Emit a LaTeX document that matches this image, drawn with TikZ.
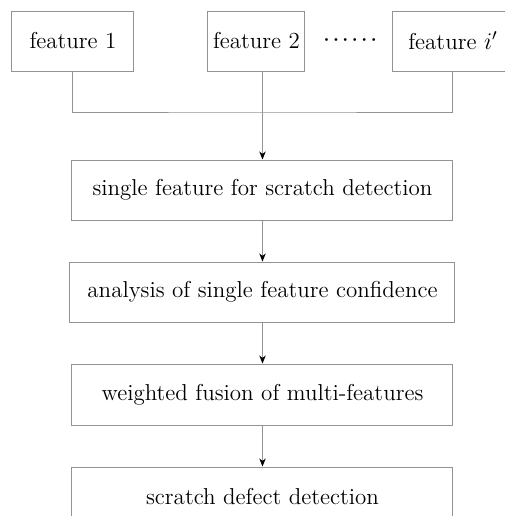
\documentclass[tikz,border=0pt]{standalone}
\usepackage{amsmath}
\usetikzlibrary{arrows.meta}

\begin{document}
\begin{tikzpicture}[x=0.5pt,y=-0.5pt,
  font=\fontsize{11.5}{13}\selectfont,
  box/.style={draw=gray!85,line width=0.5pt,inner sep=0pt,minimum height=30pt},
  link/.style={draw=gray!85,line width=0.5pt},
  arr/.style={link,-{Stealth[black,length=4pt,width=3.2pt,inset=1.2pt]}}]
\useasboundingbox (0,0) rectangle (505,516);
\clip (0,0) rectangle (505,516);
% feature row
\node[box,minimum width=61pt] (f1) at (73,41) {feature 1};
\node[box,minimum width=48.5pt] (f2) at (256.5,41) {feature 2};
\node[font=\fontsize{9.5}{11}\selectfont] (dots) at (352,40) {$\boldsymbol{\cdots\cdots}$};
\node[box,minimum width=60pt] (fi) at (453,41) {feature $i'$};
% processing steps
\node[box,minimum width=190.5pt] (b1) at (262.5,190) {single feature for scratch detection};
\node[box,minimum width=192.5pt] (b2) at (262.5,292) {analysis of single feature confidence};
\node[box,minimum width=190.5pt,minimum height=30.5pt] (b3) at (262.5,394.5) {weighted fusion of multi-features};
\node[box,minimum width=190.5pt] (b4) at (262.5,497) {scratch defect detection};
\coordinate (jn) at (262.5,112); % edit here for the joining line
\draw[link] (f1.south) |- (jn) -| (fi.south);
\draw[link] (f2.south -| b1.north) -- (jn);
\draw[arr] (jn) -- (b1.north);
\foreach \a/\b in {b1/b2,b2/b3,b3/b4}
\draw[arr] (\a.south) -- (\b.north);
\end{tikzpicture}
\end{document}
